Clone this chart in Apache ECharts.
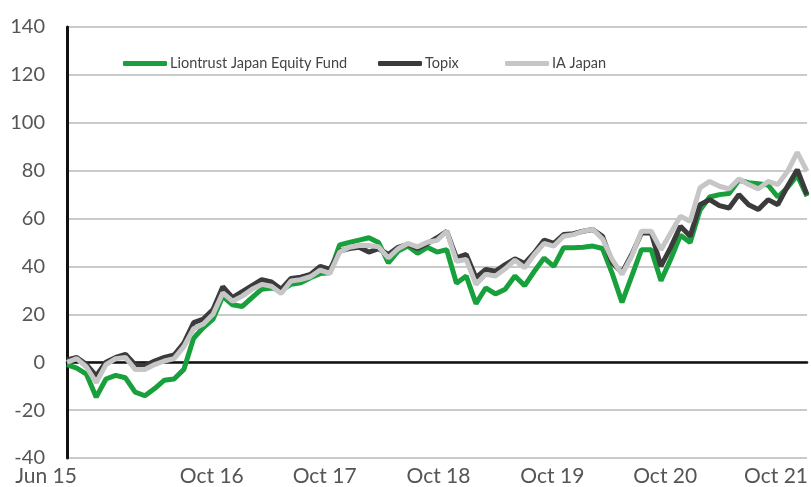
<!DOCTYPE html>
<html>
<head>
<meta charset="utf-8">
<script src="https://cdn.jsdelivr.net/npm/echarts@6/dist/echarts.min.js"></script>
<style>
html,body{margin:0;padding:0;background:#fff;}
#chart{width:811px;height:487px;}
</style>
</head>
<body>
<div id="chart"></div>
<script>
// Monthly categories Jun 15 .. Oct 21
const months = ['Jan','Feb','Mar','Apr','May','Jun','Jul','Aug','Sep','Oct','Nov','Dec'];
const categories = [];
for (let y = 15; y <= 21; y++) {
  for (let m = 0; m < 12; m++) {
    if (y === 15 && m < 5) continue;
    if (y === 21 && m > 9) continue;
    categories.push(months[m] + ' ' + y);
  }
}
const tickLabels = ['Jun 15', 'Oct 16', 'Oct 17', 'Oct 18', 'Oct 19', 'Oct 20', 'Oct 21'];

const liontrust = [
  -1, -2.5, -5, -14.6, -7, -5.5, -6.5, -12.5, -14, -11,
  -7.5, -7, -3, 10, 14.5, 18, 27.5, 24, 23.3, 27,
  30.5, 31, 30, 32.5, 33.2, 35.3, 37, 37.4, 49, 50,
  51, 52, 50, 41.5, 46.4, 48.5, 45.5, 48, 46, 47,
  33, 36, 24.5, 31, 28.5, 30.5, 36, 32, 38, 43.5,
  40, 47.8, 47.8, 48, 48.5, 47.5, 37, 25, 36, 47,
  47, 34, 43, 53, 50, 63.5, 69, 70, 70.5, 76,
  75, 74.5, 74, 69, 73, 78, 69.3
];
const topix = [
  1, 2, -1, -5.7, 0, 2, 3.3, -1, -1.5, 0.5,
  2, 3, 8, 16.5, 18, 22, 31.5, 27, 29.5, 32,
  34.5, 33.5, 30.5, 35, 35.5, 36.7, 40, 38.75, 46.4, 47.5,
  48, 46, 47.4, 45, 48, 49.2, 47.5, 49.5, 52, 54.7,
  43.6, 45, 35.3, 38.75, 38, 40.8, 43.2, 41.25, 45.7, 51,
  49.6, 53.3, 53.7, 54.7, 55.4, 52.6, 41.5, 37.4, 45, 54,
  54, 40.1, 48, 56.8, 52.6, 65.8, 67.9, 65.4, 64.4, 70,
  65.8, 63.75, 67.9, 65.8, 73.5, 80.4, 70
];
const iaJapan = [
  0, 1.5, -2, -8.5, -1, 1.5, 2, -3, -3, -1,
  0.5, 1.5, 6.5, 14, 16, 20, 29, 25.5, 27.6, 30.5,
  32.5, 31.7, 28.7, 33.9, 34.5, 35.7, 38.5, 37.1, 46, 48,
  48.75, 48.75, 48.2, 43.6, 47.4, 49.6, 48.2, 50.1, 50.9, 54.7,
  42.2, 42.9, 32.5, 36.7, 36, 39, 42.6, 39.5, 45, 49.6,
  48.5, 52.6, 53.3, 54.7, 55.5, 51.5, 42.9, 36.7, 44.3, 54.7,
  54.7, 47, 54, 61, 58.9, 72.8, 75.5, 73.5, 72.4, 76.5,
  74.2, 72.4, 75.5, 74.2, 79.7, 87.6, 79.7
];

const seriesNames = ['Liontrust Japan Equity Fund', 'Topix', 'IA Japan'];
const colors = ['#17a03b', '#3b3b3b', '#c6c6c6'];

// label horizontal nudges (style only)
const labelShift = {'Jun 15': -21, 'Oct 16': -11, 'Oct 17': -15, 'Oct 18': -18, 'Oct 19': -21, 'Oct 20': -25, 'Oct 21': -31};
const rich = {};
tickLabels.forEach((t, k) => {
  rich['s' + k] = {padding: [0, -2 * labelShift[t], 0, 0], fontSize: 21, color: '#555', fontFamily: 'Lato'};
});

const chart = echarts.init(document.getElementById('chart'), null, {renderer: 'canvas'});
const fontFam = 'Lato';
const legendBase = {
  top: 51, icon: 'roundRect', itemWidth: 44, itemHeight: 5,
  textStyle: {fontFamily: fontFam, fontSize: 14.5, color: '#444', padding: [0, 0, 0, -2]},
  selectedMode: false
};
chart.setOption({
  animation: false,
  backgroundColor: '#fff',
  color: colors,
  grid: {left: 67, right: 3, top: 27, bottom: 28, containLabel: false},
  legend: [
    Object.assign({}, legendBase, {left: 118, data: [seriesNames[0]]}),
    Object.assign({}, legendBase, {left: 373, data: [seriesNames[1]]}),
    Object.assign({}, legendBase, {left: 500, data: [seriesNames[2]]})
  ],
  xAxis: [
    {
      type: 'category', data: categories, boundaryGap: false,
      axisLine: {show: true, onZero: true, lineStyle: {color: '#111', width: 2.5}},
      axisTick: {show: false}, axisLabel: {show: false}, splitLine: {show: false}
    },
    {
      type: 'category', data: categories, boundaryGap: false, position: 'bottom',
      axisLine: {show: false, onZero: false}, axisTick: {show: false}, splitLine: {show: false},
      axisLabel: {
        show: true, margin: 8,
        interval: (idx, val) => tickLabels.indexOf(val) >= 0,
        formatter: (val) => {
          const k = tickLabels.indexOf(val);
          return k >= 0 ? '{s' + k + '|' + val + '}' : '';
        },
        rich: rich
      }
    }
  ],
  yAxis: {
    type: 'value', min: -40, max: 140, interval: 20,
    axisLine: {show: true, lineStyle: {color: '#111', width: 3}},
    axisTick: {show: false},
    axisLabel: {fontFamily: fontFam, fontSize: 20, color: '#555', margin: 22},
    splitLine: {show: true, lineStyle: {color: '#cacaca', width: 2}}
  },
  series: [
    {name: seriesNames[0], type: 'line', data: liontrust, symbol: 'none', lineStyle: {width: 5, color: colors[0]}, itemStyle: {color: colors[0]}},
    {name: seriesNames[1], type: 'line', data: topix, symbol: 'none', lineStyle: {width: 5, color: colors[1]}, itemStyle: {color: colors[1]}},
    {name: seriesNames[2], type: 'line', data: iaJapan, symbol: 'none', lineStyle: {width: 5, color: colors[2]}, itemStyle: {color: colors[2]}}
  ]
});
</script>
</body>
</html>
